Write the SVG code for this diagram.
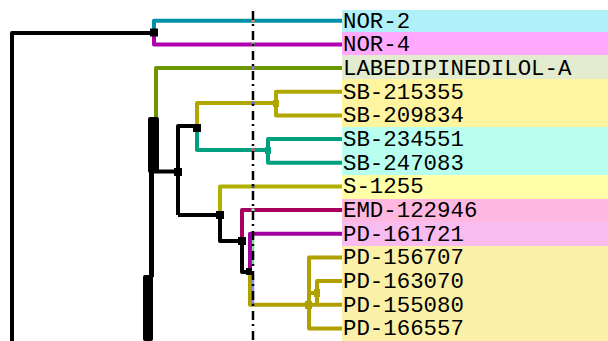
<svg xmlns="http://www.w3.org/2000/svg" width="608" height="341" viewBox="0 0 608 341">
<style>
.lbl{font-family:"Liberation Mono",monospace;font-size:22.4px;fill:#000}
.ln{fill:none;stroke-width:4;stroke-linejoin:round;stroke-linecap:butt}
.k{stroke:#000}
.nd{fill:#000}
</style>
<rect width="608" height="341" fill="#fff"/>
<g id="bands">
<rect x="342" y="10" width="266" height="22" fill="#b0f0f8"/>
<rect x="342" y="32" width="266" height="23" fill="#ffaaff"/>
<rect x="342" y="55" width="266" height="24" fill="#e4ecd0"/>
<rect x="342" y="79" width="266" height="48" fill="#fff5a0"/>
<rect x="342" y="127" width="266" height="48" fill="#b8fff0"/>
<rect x="342" y="175" width="266" height="24" fill="#ffffa8"/>
<rect x="342" y="199" width="266" height="23" fill="#ffb8e0"/>
<rect x="342" y="222" width="266" height="24" fill="#f8bcf0"/>
<rect x="342" y="246" width="266" height="95" fill="#faf0a8"/>
</g>
<g id="connectors">
<path class="ln k" d="M12,341 V33 H154"/>
<path class="ln" stroke="#0090a8" d="M342,20.7 H154 V33"/>
<path class="ln" stroke="#b000b0" d="M154,33 V44.4 H342"/>
<path class="ln" stroke="#6b9600" d="M342,68 H156 V118"/>
<rect x="148" y="117" width="11" height="56" rx="2" fill="#000"/>
<rect x="149" y="170" width="5" height="107" fill="#000"/>
<rect x="143" y="275" width="10" height="66" rx="2" fill="#000"/>
<path class="ln k" d="M154,171.5 H178"/>
<path class="ln k" d="M178,215 V126 H197"/>
<path class="ln" stroke="#b0a800" d="M197,127 V103 H276"/>
<path class="ln" stroke="#b0a800" d="M342,91.7 H276 V115.4 H342"/>
<path class="ln" stroke="#00a080" d="M197,127 V150 H268"/>
<path class="ln" stroke="#00a080" d="M342,139 H268 V162.7 H342"/>
<path class="ln k" d="M178,215 H220 V241 H242 V272 H249"/>
<path class="ln" stroke="#b0b000" d="M220,215 V186.4 H342"/>
<path class="ln" stroke="#a8005c" d="M242,241 V210 H342"/>
<path class="ln" stroke="#a000a0" d="M250,272 V233.7 H342"/>
<path class="ln" stroke="#b0a000" d="M250,272 V304.7 H342"/>
<path class="ln" stroke="#b0a000" d="M342,257.4 H309 V328.4 H342"/>
<path class="ln" stroke="#b0a000" d="M342,281 H317 V304.7"/>
<path class="ln" stroke="#b0a000" d="M309,293 H318"/>
<g id="marks">
<rect x="251.5" y="19.2" width="3" height="3" fill="#ff8060"/>
<rect x="251.5" y="42.9" width="3" height="3" fill="#40e060"/>
<rect x="251.5" y="66.5" width="3" height="3" fill="#9070ff"/>
<rect x="251.5" y="101.5" width="3" height="3" fill="#6060ff"/>
<rect x="251.5" y="148.5" width="3" height="3" fill="#ff5070"/>
<rect x="251.5" y="184.9" width="3" height="3" fill="#404090"/>
<rect x="251.5" y="208.5" width="3" height="3" fill="#80ffb0"/>
<rect x="251.8" y="235" width="2.4" height="30" fill="#40d060" opacity="0.7"/>
<rect x="251.8" y="276" width="2.4" height="28" fill="#5060ff" opacity="0.7"/>
</g>
<line x1="253" y1="11" x2="253" y2="341" stroke="#000" stroke-width="2.5" stroke-dasharray="9,4,2,5"/>
</g>
<g id="nodes">
<rect class="nd" x="150" y="28.5" width="8" height="8"/>
<rect class="nd" x="174" y="168" width="8" height="8"/>
<rect class="nd" x="193" y="124" width="8" height="8"/>
<rect class="nd" x="216" y="211" width="8" height="8"/>
<rect class="nd" x="238" y="237" width="8" height="8"/>
<rect class="nd" x="246" y="268" width="6" height="7"/>
<rect x="273" y="100" width="6" height="7" fill="#b0a800"/>
<rect x="265" y="147" width="6" height="7" fill="#00a080"/>
<rect x="305" y="301" width="7" height="8" fill="#b0a000"/>
<rect x="314" y="289" width="6" height="8" fill="#b0a000"/>
</g>
<g id="labels">
<text class="lbl" x="343" y="27.5">NOR-2</text>
<text class="lbl" x="343" y="51.2">NOR-4</text>
<text class="lbl" x="343" y="74.8">LABEDIPINEDILOL-A</text>
<text class="lbl" x="343" y="98.5">SB-215355</text>
<text class="lbl" x="343" y="122.2">SB-209834</text>
<text class="lbl" x="343" y="145.8">SB-234551</text>
<text class="lbl" x="343" y="169.5">SB-247083</text>
<text class="lbl" x="343" y="193.2">S-1255</text>
<text class="lbl" x="343" y="216.8">EMD-122946</text>
<text class="lbl" x="343" y="240.5">PD-161721</text>
<text class="lbl" x="343" y="264.2">PD-156707</text>
<text class="lbl" x="343" y="287.8">PD-163070</text>
<text class="lbl" x="343" y="311.5">PD-155080</text>
<text class="lbl" x="343" y="335.2">PD-166557</text>
</g>
</svg>
